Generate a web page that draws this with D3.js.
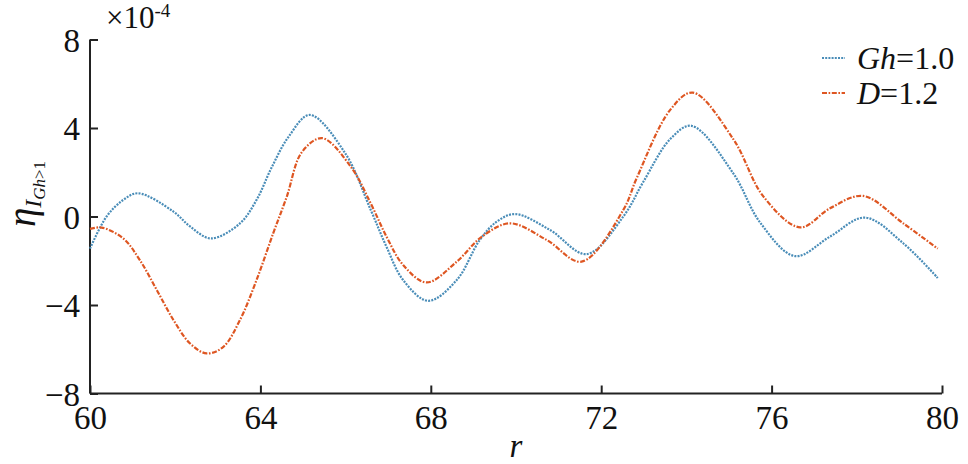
<!DOCTYPE html>
<html>
<head>
  <meta charset="utf-8">
  <title>eta vs r</title>
  <style type="text/css">
  body { margin: 0; background: white; }
  svg text { fill: #111; }
  .axis path, .axis line { stroke: #222; stroke-width: 2px; }
  </style>
</head>
<body>
  <script src="https://d3js.org/d3.v7.min.js"></script>
  <div id="chart"></div>
  <script>

  // Gh=1.0 (blue, dotted)
  var ghR = [60, 60.39, 60.78, 61.13, 61.96, 62.35, 62.84, 63.52, 63.91, 64.26, 64.66, 65.16, 65.99, 66.6,
             66.96, 67.35, 67.94, 68.61, 69.15, 69.55, 69.98, 70.8, 71.66, 72.52, 72.99, 73.62, 74.12,
             75.1, 75.73, 76.55, 77.37, 78.19, 79.09, 79.9];
  var ghV = [-1.45, 0, 0.75, 1.05, 0.22, -0.45, -0.99, -0.31, 0.75, 2.2, 3.6, 4.59, 2.86, 0.25,
             -1.37, -2.87, -3.81, -2.87, -1.06, -0.23, 0.11, -0.61, -1.70, 0.0, 1.57, 3.5, 4.10,
             1.95, -0.27, -1.79, -0.91, -0.05, -1.21, -2.78];

  // D=1.2 (red, dash-dot)
  var dR = [60, 60.27, 60.78, 61.17, 61.57, 61.96, 62.35, 62.74, 63.13, 63.52, 63.91, 64.3, 64.62, 64.97,
            65.45, 66.14, 66.6, 66.96, 67.35, 67.9, 68.61, 69.2, 69.86, 70.72, 71.54, 72.52, 72.83,
            73.62, 74.15, 75.1, 75.81, 76.67, 77.37, 78.15, 79.09, 79.9];
  var dV = [-0.56, -0.5, -0.99, -1.97, -3.33, -4.68, -5.74, -6.19, -5.89, -4.68, -2.87, -0.76, 0.9, 2.9,
            3.54, 2.2, 0.55, -0.91, -2.19, -2.98, -2.04, -0.91, -0.31, -1.06, -2.04, 0.3, 1.72,
            4.82, 5.6, 3.5, 0.9, -0.49, 0.37, 0.93, -0.31, -1.45];

  var xTicks = [60, 64, 68, 72, 76, 80];
  var yTicks = [-8, -4, 0, 4, 8];
  var seriesNames = ["Gh=1.0", "D=1.2"];

  var serif = "'Liberation Serif', Tinos, 'Times New Roman', Times, 'Nimbus Roman', 'DejaVu Serif', 'Noto Serif', serif";

  var width = 968, height = 464;
  var svg = d3.select("#chart").append("svg")
      .attr("width", width)
      .attr("height", height)
      .style("font-family", serif);

  var x = d3.scaleLinear().domain([60, 80]).range([90, 942]);
  var y = d3.scaleLinear().domain([-8, 8]).range([393.5, 39.5]);

  var fmt = function(d) { return d < 0 ? "\u2212" + Math.abs(d) : "" + d; };

  // x axis, ticks pointing inward
  var gx = svg.append("g").attr("class", "axis")
      .attr("transform", "translate(0," + y(-8) + ")")
      .call(d3.axisBottom(x).tickValues(xTicks).tickSizeInner(-8).tickSizeOuter(0).tickFormat(fmt));
  gx.attr("font-family", null);
  gx.selectAll("text").attr("y", 12).attr("dy", "0.71em").style("font-size", "33px");

  // y axis
  var gy = svg.append("g").attr("class", "axis")
      .attr("transform", "translate(" + x(60) + ",0)")
      .call(d3.axisLeft(y).tickValues(yTicks).tickSizeInner(-8).tickSizeOuter(0).tickFormat(fmt));
  gy.attr("font-family", null);
  gy.selectAll("text").attr("x", -10).attr("dy", "0.36em").style("font-size", "33px");

  gx.select(".domain").attr("d", "M" + x(60) + ",0H" + x(80));
  gy.select(".domain").attr("d", "M0," + y(8) + "V" + y(-8));

  // exponent
  var expo = svg.append("text").attr("x", 106).attr("y", 28).style("font-size", "31px");
  expo.append("tspan").text("\u00d710");
  expo.append("tspan").attr("dy", -11).style("font-size", "19px").text("-4");

  // axis titles
  svg.append("text")
      .attr("x", x(70)).attr("y", 457)
      .attr("text-anchor", "middle")
      .style("font-size", "33px").style("font-style", "italic")
      .text("r");

  var yl = svg.append("text")
      .attr("transform", "translate(35,194) rotate(-90)")
      .attr("text-anchor", "middle")
      .style("font-size", "39px");
  yl.append("tspan").style("font-style", "italic").text("\u03b7");
  yl.append("tspan").attr("dy", 6).style("font-size", "24px").style("font-style", "italic").text("I");
  yl.append("tspan").attr("dy", 4).style("font-size", "17px").style("font-style", "italic").text("Gh");
  yl.append("tspan").style("font-size", "17px").text(">1");

  var line = d3.line()
      .x(function(d) { return x(d[0]); })
      .y(function(d) { return y(d[1]); })
      .curve(d3.curveCatmullRom.alpha(0.5));

  var series = [
    { pts: d3.zip(ghR, ghV), color: "#4a8db8", dash: "2,1.2" },
    { pts: d3.zip(dR, dV), color: "#de5622", dash: "5,1.6,1.6,1.6" }
  ];

  svg.selectAll(".curve")
    .data(series)
    .enter()
    .append("path")
      .attr("class", "curve")
      .attr("d", function(d) { return line(d.pts); })
      .attr("fill", "none")
      .attr("stroke", function(d) { return d.color; })
      .attr("stroke-width", 2.2)
      .attr("stroke-dasharray", function(d) { return d.dash; });

  // legend
  var leg = svg.append("g").attr("transform", "translate(822,58)");
  var rows = leg.selectAll("g").data(series).enter().append("g")
      .attr("transform", function(d, i) { return "translate(0," + i * 35 + ")"; });
  rows.append("line")
      .attr("x1", 0).attr("x2", 23)
      .attr("stroke", function(d) { return d.color; })
      .attr("stroke-width", 2.2)
      .attr("stroke-dasharray", function(d) { return d.dash; });
  rows.append("text")
      .attr("x", 35).attr("dy", "0.33em")
      .style("font-size", "32px")
      .each(function(d, i) {
        var t = d3.select(this);
        var parts = seriesNames[i].split("=");
        t.append("tspan").style("font-style", "italic").text(parts[0]);
        t.append("tspan").text("=" + parts[1]);
      });

  </script>
</body>
</html>
